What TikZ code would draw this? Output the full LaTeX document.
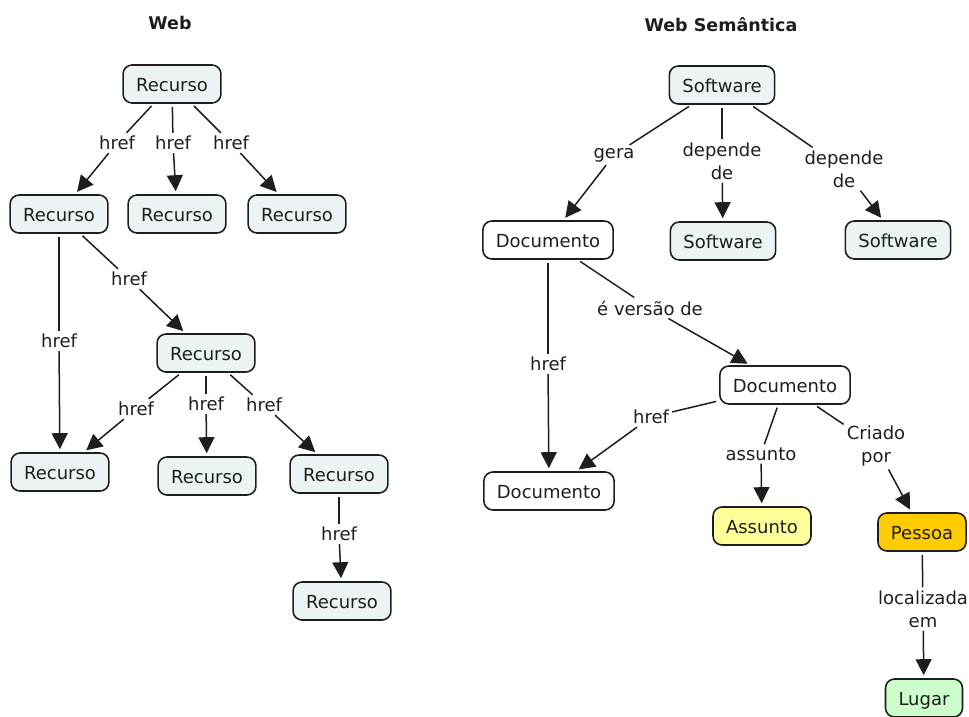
\documentclass[tikz,border=0pt]{standalone}
\usepackage{fontspec}
\setmainfont{DejaVu Sans}
\usetikzlibrary{arrows.meta}

\definecolor{conceptblue}{HTML}{EBF3F5}
\definecolor{topicyellow}{HTML}{FFFF99}
\definecolor{personorange}{HTML}{FFCC00}
\definecolor{placegreen}{HTML}{CCFFCC}
\definecolor{ink}{HTML}{1E1E1E}

\begin{document}
\begin{tikzpicture}[x=1pt,y=-1pt,
  concept/.style={draw=ink, line width=1.6pt, rounded corners=9pt, fill=conceptblue,
    inner xsep=13pt, inner ysep=0pt, minimum height=38pt,
    text height=17pt, text depth=2pt, text=ink, font=\fontsize{18}{23}\selectfont},
  doc/.style={concept, fill=white},
  topic/.style={concept, fill=topicyellow},
  person/.style={concept, fill=personorange},
  place/.style={concept, fill=placegreen},
  link/.style={font=\fontsize{18}{23}\selectfont, align=center, inner sep=3pt, text=ink},
  title/.style={font=\fontsize{17.5}{21}\selectfont\bfseries, text=ink},
  rel/.style={draw=ink, line width=1.5pt, shorten <=3pt},
  relarrow/.style={draw=ink, line width=1.5pt, shorten >=3pt,
    -{Triangle[length=16pt,width=16pt]}}
]
\useasboundingbox (0,0) rectangle (969,717);

% ---------- Web ----------
\node[title] (tweb) at (170,23) {Web};

\node[concept] (r0) at (172,84)  {Recurso};
\node[concept] (r1) at (59,214)  {Recurso};
\node[concept] (r2) at (177,214) {Recurso};
\node[concept] (r3) at (297,214) {Recurso};
\node[concept] (r4) at (206,353) {Recurso};
\node[concept] (r5) at (60,472)  {Recurso};
\node[concept] (r6) at (207,476) {Recurso};
\node[concept] (r7) at (339,474) {Recurso};
\node[concept] (r8) at (342,601) {Recurso};

\node[link] (h1) at (117,143) {href};
\node[link] (h2) at (173,143) {href};
\node[link] (h3) at (231,143) {href};
\node[link] (h4) at (129,279) {href};
\node[link] (h5) at (59,341)  {href};
\node[link] (h6) at (136,409) {href};
\node[link] (h7) at (206,404) {href};
\node[link] (h8) at (264,405) {href};
\node[link] (h9) at (339,534) {href};

\draw[rel] (r0) -- (h1); \draw[relarrow] (h1) -- (r1);
\draw[rel] (r0) -- (h2); \draw[relarrow] (h2) -- (r2);
\draw[rel] (r0) -- (h3); \draw[relarrow] (h3) -- (r3);
\draw[rel] (r1) -- (h4); \draw[relarrow] (h4) -- (r4);
\draw[rel] (r1) -- (h5); \draw[relarrow] (h5) -- (r5);
\draw[rel] (r4) -- (h6); \draw[relarrow] (h6) -- (r5);
\draw[rel] (r4) -- (h7); \draw[relarrow] (h7) -- (r6);
\draw[rel] (r4) -- (h8); \draw[relarrow] (h8) -- (r7);
\draw[rel] (r7) -- (h9); \draw[relarrow] (h9) -- (r8);

% ---------- Web Semântica ----------
\node[title] (tsem) at (721,25) {Web Semântica};

\node[concept] (s0) at (722,85)  {Software};
\node[doc]     (d1) at (548,240) {Documento};
\node[concept] (s1) at (723,241) {Software};
\node[concept] (s2) at (898,240) {Software};
\node[doc]     (d2) at (785,385) {Documento};
\node[doc]     (d3) at (549,491) {Documento};
\node[topic]   (as) at (762,526) {Assunto};
\node[person]  (pe) at (922,532) {Pessoa};
\node[place]   (lu) at (924,698) {Lugar};

\node[link] (lgera) at (614,155) {gera};
\node[link] (ldep1) at (722,161) {depende\\de};
\node[link] (ldep2) at (844,169) {depende\\de};
\node[link] (lver)  at (650,308) {é versão de};
\node[link] (lhr1)  at (548,364) {href};
\node[link] (lhr2)  at (651,417) {href};
\node[link] (lass)  at (761,454) {assunto};
\node[link] (lcri)  at (876,446) {Criado\\por};
\node[link] (lloc)  at (923,609) {localizada\\em};

\draw[rel] (s0) -- (lgera); \draw[relarrow] (lgera) -- (d1);
\draw[rel] (s0) -- (ldep1); \draw[relarrow] (ldep1) -- (s1);
\draw[rel] (s0) -- (ldep2); \draw[relarrow] (ldep2) -- (s2);
\draw[rel] (d1) -- (lver);  \draw[relarrow] (lver) -- (d2);
\draw[rel] (d1) -- (lhr1);  \draw[relarrow] (lhr1) -- (d3);
\draw[rel] (d2) -- (lhr2);  \draw[relarrow] (lhr2) -- (d3);
\draw[rel] (d2) -- (lass);  \draw[relarrow] (lass) -- (as);
\draw[rel] (d2) -- (lcri);  \draw[relarrow] (lcri) -- (pe);
\draw[rel] (pe) -- (lloc);  \draw[relarrow] (lloc) -- (lu);
\end{tikzpicture}
\end{document}
